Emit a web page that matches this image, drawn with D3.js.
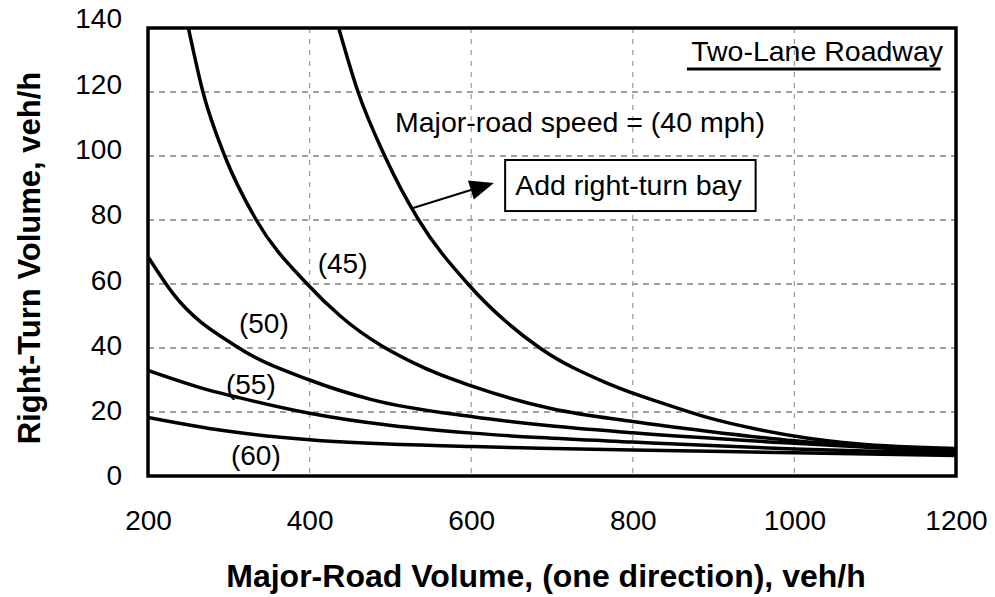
<!DOCTYPE html>
<html>
<head>
<meta charset="utf-8">
<script src="https://cdn.jsdelivr.net/npm/d3@7"></script>
<style>
  html, body { margin: 0; padding: 0; background: #fff; }
  svg { display: block; }
  text { font-family: "Liberation Sans", Arial, Helvetica, sans-serif; fill: #000; }
</style>
</head>
<body>
<svg id="chart" width="995" height="597"></svg>
<script>
// ---- data ----
const xTicks = [200, 400, 600, 800, 1000, 1200];
const yTicks = [0, 20, 40, 60, 80, 100, 120, 140];

const speedLabels = ["(45)", "(50)", "(55)", "(60)"];

const vol40 = [436, 460, 493, 535, 596, 685, 768, 842, 892, 954, 1015, 1077, 1200];
const rt40  = [140, 120, 100, 80, 60, 40, 29, 22.3, 18.3, 14.6, 11.9, 10.1, 8.6];

const vol45 = [250, 268, 295, 334, 397, 438, 540, 602, 700, 800, 892, 1000, 1100, 1200];
const rt45  = [140, 120, 100, 80, 60, 50, 34, 28, 21, 17, 14, 11, 9.2, 8.0];

const vol50 = [200, 231, 310, 400, 478, 602, 685, 800, 1000, 1200];
const rt50  = [68.5, 57, 40.4, 30, 23.8, 18.5, 16, 13.5, 10.2, 7.5];

const vol55 = [200, 273, 314, 400, 602, 685, 800, 1000, 1200];
const rt55  = [33, 27, 24.4, 19.6, 13.4, 12, 10.6, 8.4, 7.0];

const vol60 = [200, 293, 400, 602, 685, 800, 1000, 1200];
const rt60  = [18.3, 14.2, 11.3, 9.2, 8.7, 8.1, 7.3, 6.4];

// annotation anchors in data units
const labelVol = [410, 312.6, 296.5, 302.7];
const labelRt  = [63.4, 44.7, 25.5, 3.4];
const arrowVol = [528, 628];
const arrowRt  = [83.75, 91.6];
const boxVol = [642, 952];
const boxRt  = [98.75, 82.8];
const underlineVol = [867, 1181];
const underlineRt = 127.2;

// ---- layout ----
const svg = d3.select("#chart");
const L = 148, R = 956, T = 28, B = 476;

const x = d3.scaleLinear().domain([200, 1200]).range([L, R]);
const y = d3.scaleLinear().domain([0, 140]).range([B, T]);
const yLab = d3.scaleLinear().domain([0, 140]).range([B, T - 9]);

svg.append("defs").append("clipPath").attr("id", "clip")
  .append("rect").attr("x", L).attr("y", T).attr("width", R - L).attr("height", B - T);

// grid
svg.append("g").selectAll("line").data(yTicks.filter(d => d > 0 && d < 140)).join("line")
  .attr("x1", L).attr("x2", R).attr("y1", d => y(d)).attr("y2", d => y(d))
  .attr("stroke", "#a0a0a0").attr("stroke-width", 1.8).attr("stroke-dasharray", "6,5");
svg.append("g").selectAll("line").data(xTicks.filter(d => d > 200 && d < 1200)).join("line")
  .attr("x1", d => x(d)).attr("x2", d => x(d)).attr("y1", T).attr("y2", B)
  .attr("stroke", "#a0a0a0").attr("stroke-width", 1.3).attr("stroke-dasharray", "5,6");

// axes labels (no ticks)
const yAxis = svg.append("g").attr("transform", `translate(${L},0)`)
  .call(d3.axisLeft(yLab).tickValues(yTicks).tickSize(0).tickPadding(26).tickFormat(d3.format("d")));
yAxis.select(".domain").remove();
yAxis.selectAll("text").attr("font-size", 28).attr("font-family", "Liberation Sans, Arial, sans-serif");

const xAxis = svg.append("g").attr("transform", `translate(0,${B})`)
  .call(d3.axisBottom(x).tickValues(xTicks).tickSize(0).tickPadding(34).tickFormat(d3.format("d")));
xAxis.select(".domain").remove();
xAxis.selectAll("text").attr("font-size", 28).attr("font-family", "Liberation Sans, Arial, sans-serif");

// curves
const series = [
  [vol40, rt40], [vol45, rt45], [vol50, rt50], [vol55, rt55], [vol60, rt60]
];
const line = d3.line().x(d => x(d[0])).y(d => y(d[1])).curve(d3.curveMonotoneX);
svg.append("g").attr("clip-path", "url(#clip)").selectAll("path")
  .data(series.map(s => s[0].map((v, i) => [v, s[1][i]]))).join("path")
  .attr("d", line).attr("fill", "none").attr("stroke", "#000")
  .attr("stroke-width", 3.5).attr("stroke-linejoin", "round");

// frame
svg.append("rect").attr("x", L).attr("y", T).attr("width", R - L).attr("height", B - T)
  .attr("fill", "none").attr("stroke", "#000").attr("stroke-width", 3.5);

// curve labels
svg.append("g").selectAll("text").data(speedLabels).join("text")
  .attr("x", (d, i) => x(labelVol[i])).attr("y", (d, i) => y(labelRt[i]))
  .attr("font-size", 28).text(d => d);

// annotations
svg.append("text").attr("x", x(505.7)).attr("y", y(107.5)).attr("font-size", 28.5)
  .text("Major-road speed = (40 mph)");

svg.append("text").attr("x", x(1184)).attr("y", y(129.7)).attr("font-size", 28.5)
  .attr("text-anchor", "end").text("Two-Lane Roadway");
svg.append("line").attr("x1", x(underlineVol[0])).attr("x2", x(underlineVol[1]))
  .attr("y1", y(underlineRt)).attr("y2", y(underlineRt))
  .attr("stroke", "#000").attr("stroke-width", 3);

// box
svg.append("rect").attr("x", x(boxVol[0])).attr("y", y(boxRt[0]))
  .attr("width", x(boxVol[1]) - x(boxVol[0])).attr("height", y(boxRt[1]) - y(boxRt[0]))
  .attr("fill", "#fff").attr("stroke", "#000").attr("stroke-width", 2);
svg.append("text").attr("x", x(boxVol[0]) + 10).attr("y", y(boxRt[1]) - 16).attr("font-size", 28.5)
  .text("Add right-turn bay");

// arrow
const ax1 = x(arrowVol[0]), ay1 = y(arrowRt[0]), ax2 = x(arrowVol[1]), ay2 = y(arrowRt[1]);
const ang = Math.atan2(ay2 - ay1, ax2 - ax1);
const hl = 24, hw = 10;
const bx = ax2 - hl * Math.cos(ang), by = ay2 - hl * Math.sin(ang);
svg.append("line").attr("x1", ax1).attr("y1", ay1).attr("x2", bx).attr("y2", by)
  .attr("stroke", "#000").attr("stroke-width", 2);
svg.append("path")
  .attr("d", `M${ax2},${ay2} L${bx - hw * Math.sin(ang)},${by + hw * Math.cos(ang)} L${bx + hw * Math.sin(ang)},${by - hw * Math.cos(ang)} Z`)
  .attr("fill", "#000");

// axis titles
svg.append("text").attr("x", 546).attr("y", 587).attr("text-anchor", "middle")
  .attr("font-size", 32).attr("font-weight", "bold")
  .text("Major-Road Volume, (one direction), veh/h");
svg.append("text").attr("transform", "translate(40,258) rotate(-90)").attr("text-anchor", "middle")
  .attr("font-size", 31).attr("font-weight", "bold")
  .text("Right-Turn Volume, veh/h");
</script>
</body>
</html>
